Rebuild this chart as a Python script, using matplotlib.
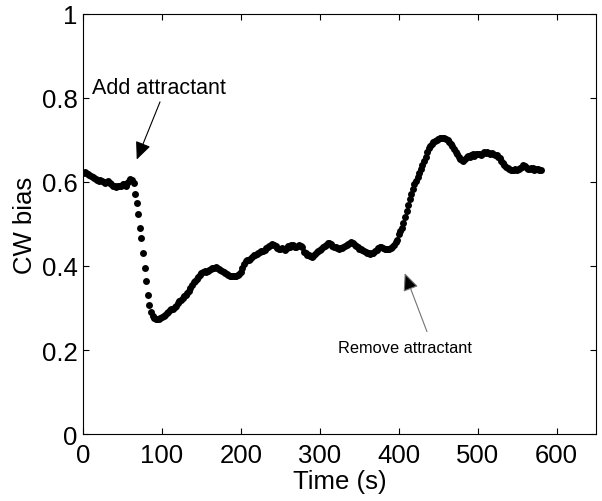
import numpy as np
import matplotlib
import matplotlib.pyplot as plt

matplotlib.use('Agg')

# sampled every 2 s, 0..580 s
time_s = np.arange(0, 582, 2)
cw_bias = [
    0.620, 0.623, 0.622, 0.619, 0.616, 0.614, 0.612, 0.609, 0.607, 0.605,
    0.603, 0.605, 0.603, 0.600, 0.598, 0.600, 0.602, 0.598, 0.594, 0.591,
    0.589, 0.588, 0.591, 0.589, 0.590, 0.594, 0.596, 0.591, 0.597, 0.603,
    0.607, 0.605, 0.598, 0.571, 0.549, 0.524, 0.490, 0.466, 0.430, 0.395,
    0.364, 0.332, 0.308, 0.290, 0.281, 0.277, 0.275, 0.274, 0.275, 0.277,
    0.279, 0.280, 0.284, 0.288, 0.291, 0.295, 0.297, 0.298, 0.302, 0.306,
    0.311, 0.316, 0.320, 0.324, 0.328, 0.332, 0.336, 0.341, 0.347, 0.355,
    0.362, 0.365, 0.369, 0.374, 0.379, 0.383, 0.385, 0.387, 0.386, 0.389,
    0.390, 0.392, 0.394, 0.396, 0.397, 0.395, 0.393, 0.390, 0.388, 0.386,
    0.384, 0.381, 0.379, 0.377, 0.376, 0.375, 0.376, 0.377, 0.378, 0.380,
    0.385, 0.394, 0.404, 0.411, 0.413, 0.414, 0.417, 0.421, 0.425, 0.427,
    0.429, 0.431, 0.433, 0.436, 0.436, 0.439, 0.442, 0.444, 0.447, 0.450,
    0.452, 0.451, 0.447, 0.443, 0.441, 0.440, 0.442, 0.440, 0.439, 0.443,
    0.447, 0.446, 0.449, 0.450, 0.446, 0.444, 0.447, 0.449, 0.448, 0.444,
    0.433, 0.430, 0.427, 0.425, 0.423, 0.421, 0.424, 0.429, 0.433, 0.436,
    0.438, 0.441, 0.444, 0.448, 0.451, 0.454, 0.455, 0.452, 0.448, 0.446,
    0.444, 0.442, 0.441, 0.443, 0.442, 0.444, 0.447, 0.450, 0.452, 0.454,
    0.456, 0.454, 0.451, 0.448, 0.444, 0.441, 0.440, 0.438, 0.436, 0.434,
    0.431, 0.430, 0.429, 0.430, 0.432, 0.435, 0.438, 0.442, 0.445, 0.444,
    0.443, 0.441, 0.440, 0.441, 0.440, 0.442, 0.446, 0.451, 0.456, 0.462,
    0.475, 0.482, 0.490, 0.502, 0.516, 0.530, 0.545, 0.558, 0.572, 0.583,
    0.594, 0.603, 0.611, 0.620, 0.630, 0.640, 0.650, 0.660, 0.670, 0.680,
    0.686, 0.691, 0.695, 0.698, 0.700, 0.702, 0.704, 0.705, 0.705, 0.704,
    0.702, 0.699, 0.695, 0.690, 0.684, 0.678, 0.671, 0.665, 0.660, 0.655,
    0.651, 0.650, 0.654, 0.658, 0.661, 0.659, 0.663, 0.665, 0.662, 0.666,
    0.667, 0.665, 0.664, 0.667, 0.670, 0.669, 0.671, 0.668, 0.667, 0.669,
    0.666, 0.664, 0.663, 0.660, 0.656, 0.650, 0.645, 0.640, 0.636, 0.633,
    0.630, 0.628, 0.629, 0.628, 0.630, 0.628, 0.630, 0.633, 0.636, 0.640,
    0.637, 0.633, 0.630, 0.631, 0.634, 0.632, 0.629, 0.630, 0.631, 0.629,
    0.627,
]

x_ticks = [0, 100, 200, 300, 400, 500, 600]
y_ticks = [0, 0.2, 0.4, 0.6, 0.8, 1]
y_tick_labels = ['0', '0.2', '0.4', '0.6', '0.8', '1']

plt.rcParams['font.family'] = ['Liberation Sans', 'DejaVu Sans']

fig = plt.figure(figsize=(6.02, 5.02), dpi=100)
ax = fig.add_axes([0.138, 0.133, 0.852, 0.838])

ax.plot(time_s, cw_bias, 'o', color='black', markersize=5.0, markeredgewidth=0)

ax.set_xlim(0, 650)
ax.set_ylim(0, 1)
ax.set_xticks(x_ticks)
ax.set_yticks(y_ticks)
ax.set_yticklabels(y_tick_labels)
ax.tick_params(direction='in', length=4, width=0.8, labelsize=18.5,
               top=True, right=True)
ax.tick_params(axis='x', pad=6)
ax.tick_params(axis='y', pad=4)
for sp in ax.spines.values():
    sp.set_linewidth(0.8)

ax.set_xlabel('Time (s)', fontsize=18.5, labelpad=2)
ax.set_ylabel('CW bias', fontsize=18.5, labelpad=3)

# annotations
ax.text(11, 0.824, 'Add attractant', fontsize=15.5, va='center', ha='left')
ax.annotate('', xy=(68, 0.653), xytext=(97.5, 0.790),
            arrowprops=dict(arrowstyle='-|>,head_length=0.9,head_width=0.4',
                            color='black', lw=0.8, shrinkA=0, shrinkB=0,
                            mutation_scale=12))
ax.text(323, 0.207, 'Remove attractant', fontsize=11.8, va='center', ha='left')
ax.annotate('', xy=(407.6, 0.383), xytext=(435.8, 0.244),
            arrowprops=dict(arrowstyle='-|>,head_length=0.9,head_width=0.4',
                            ec='0.45', fc='black', lw=0.8, shrinkA=0, shrinkB=0,
                            mutation_scale=12))

plt.savefig('out.png', dpi=100)
plt.close()
